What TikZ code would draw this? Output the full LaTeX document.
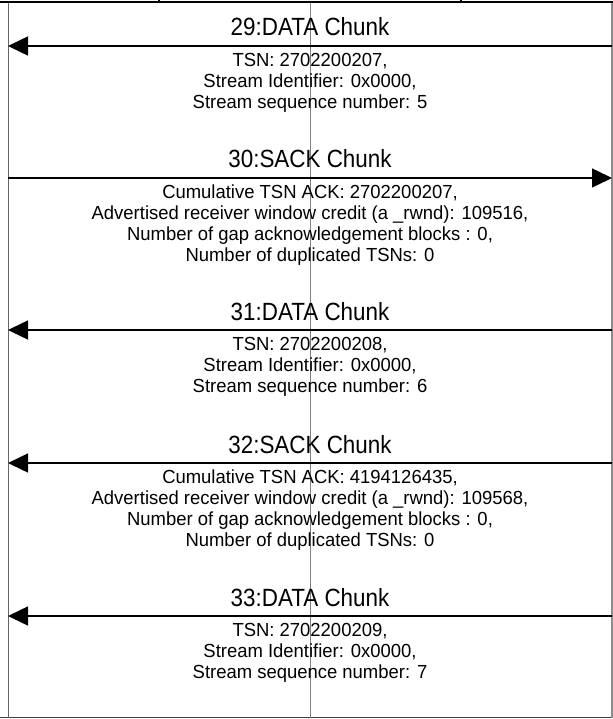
\documentclass[tikz,border=0pt]{standalone}
\usepackage{fontspec}
\setmainfont{Liberation Sans}
\newfontfamily\chunkfont[FakeStretch=0.9]{Liberation Sans}
\newfontfamily\infofont[FakeStretch=0.975]{Liberation Sans}
\usetikzlibrary{
    arrows.meta,
    positioning
}

\begin{document}
\begin{tikzpicture}[x=1bp, y=-1bp,
    msg/.style={-{Triangle[length=20bp, width=19bp]}, line width=1.5bp},
    chunk/.style={font=\chunkfont\fontsize{25}{28}\selectfont, anchor=base, inner sep=0pt},
    info/.style={font=\infofont\fontsize{19}{21}\selectfont, align=center, anchor=north, inner sep=0pt},
    lifeline/.style={draw=gray, line width=1bp}]
    \useasboundingbox (0,0) rectangle (613,719);

    % frame
    \coordinate (topl) at (0,2);
    \coordinate (topr) at (613,2);
    \coordinate (botl) at (0,717.5);
    \coordinate (botr) at (612,717.5);
    \draw[line width=2bp] (topl) -- (topr);
    \draw[draw=black!75, line width=1.5bp] (botl) -- (botr);
    \draw[line width=2bp] (159,0) -- (159,3.5);
    \draw[line width=2bp] (461,0) -- (461,3.5);

    % lifelines
    \coordinate (lefttop) at (8,3);
    \coordinate (leftbot) at (8,718);
    \coordinate (midtop) at (310,3);
    \coordinate (midbot) at (310,718);
    \coordinate (righttop) at (612,3);
    \coordinate (rightbot) at (612,718);
    \draw[lifeline, draw=black!60] (lefttop) -- (leftbot);
    \draw[lifeline] (midtop) -- (midbot);
    \draw[lifeline, line width=1.8bp, draw=gray!90] (righttop) -- (rightbot);

    % 29
    \coordinate (l29) at (8,46);
    \coordinate (r29) at (612,46);
    \draw[msg] (r29) -- (l29);
    \node[chunk] (t29) at (310,36) {29:DATA Chunk};
    \node[info] (i29) at (310,53) {TSN: 2702200207,\\Stream Identifier: 0x0000,\\Stream sequence number: 5};

    % 30
    \coordinate (l30) at (8,178);
    \coordinate (r30) at (612,178);
    \draw[msg] (l30) -- (r30);
    \node[chunk] (t30) at (310,167.5) {30:SACK Chunk};
    \node[info] (i30) at (310,184.5) {Cumulative TSN ACK: 2702200207,\\Advertised receiver window credit (a \_rwnd): 109516,\\Number of gap acknowledgement blocks : 0,\\Number of duplicated TSNs: 0};

    % 31
    \coordinate (l31) at (8,330);
    \coordinate (r31) at (612,330);
    \draw[msg] (r31) -- (l31);
    \node[chunk] (t31) at (310,320) {31:DATA Chunk};
    \node[info] (i31) at (310,337) {TSN: 2702200208,\\Stream Identifier: 0x0000,\\Stream sequence number: 6};

    % 32
    \coordinate (l32) at (8,463);
    \coordinate (r32) at (612,463);
    \draw[msg] (r32) -- (l32);
    \node[chunk] (t32) at (310,453) {32:SACK Chunk};
    \node[info] (i32) at (310,470) {Cumulative TSN ACK: 4194126435,\\Advertised receiver window credit (a \_rwnd): 109568,\\Number of gap acknowledgement blocks : 0,\\Number of duplicated TSNs: 0};

    % 33
    \coordinate (l33) at (8,616);
    \coordinate (r33) at (612,616);
    \draw[msg] (r33) -- (l33);
    \node[chunk] (t33) at (310,606) {33:DATA Chunk};
    \node[info] (i33) at (310,623) {TSN: 2702200209,\\Stream Identifier: 0x0000,\\Stream sequence number: 7};
\end{tikzpicture}
\end{document}
